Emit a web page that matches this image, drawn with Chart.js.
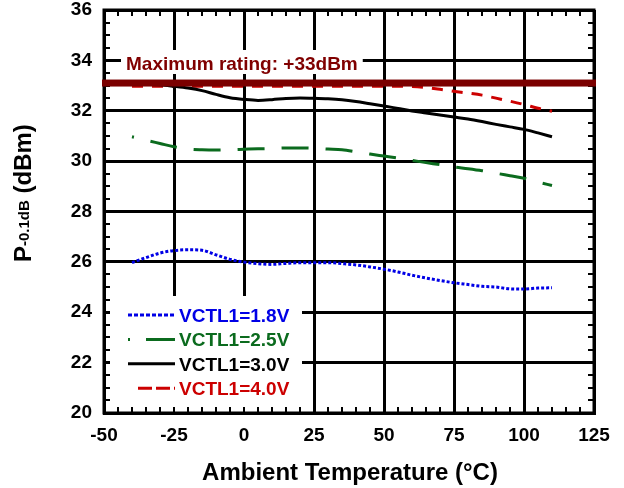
<!DOCTYPE html>
<html><head><meta charset="utf-8">
<script src="https://cdn.jsdelivr.net/npm/chart.js@4/dist/chart.umd.min.js"></script>
<style>html,body{margin:0;padding:0;background:#fff}canvas{display:block}</style>
</head><body>
<canvas id="c" width="624" height="488"></canvas>
<script>
// ---- data ----
const temps = [-40,-35,-30,-25,-20,-15,-10,-5,0,5,10,15,20,25,30,35,40,45,50,55,60,65,70,75,80,85,90,95,100,105,110];
const vctl18 = [25.97,26.17,26.35,26.45,26.48,26.46,26.28,26.10,25.99,25.93,25.90,25.94,25.97,25.97,25.97,25.93,25.88,25.80,25.71,25.60,25.47,25.36,25.26,25.17,25.10,25.03,25.00,24.93,24.92,24.96,24.97];
const vctl25 = [30.97,30.83,30.70,30.57,30.48,30.45,30.44,30.45,30.47,30.49,30.50,30.52,30.52,30.51,30.48,30.45,30.37,30.28,30.20,30.12,30.03,29.94,29.86,29.77,29.70,29.62,29.52,29.42,29.32,29.17,29.03];
const vctl30 = [33.05,33.05,33.03,32.97,32.90,32.80,32.65,32.52,32.45,32.41,32.44,32.49,32.51,32.50,32.48,32.44,32.37,32.28,32.19,32.09,31.99,31.91,31.83,31.75,31.67,31.57,31.46,31.36,31.26,31.12,30.97];
const vctl40 = [32.97,32.97,32.97,32.97,32.97,32.97,32.97,32.97,32.97,32.97,32.97,32.97,32.97,32.97,32.97,32.97,32.97,32.97,32.97,32.97,32.96,32.92,32.85,32.77,32.70,32.62,32.50,32.38,32.25,32.10,31.98];
const seriesLabels = ['VCTL1=1.8V','VCTL1=2.5V','VCTL1=3.0V','VCTL1=4.0V'];
const xTickValues = [-50,-25,0,25,50,75,100,125];
const yTickValues = [20,22,24,26,28,30,32,34,36];
const maxRatingValue = 33.1;
const maxRatingLabel = 'Maximum rating: +33dBm';
const xTitle = 'Ambient Temperature (°C)';
const yTitleMain = 'P', yTitleSub = '-0.1dB', yTitleUnit = ' (dBm)';

// ---- styles ----
const FONT = '"Liberation Sans", Arial, sans-serif';
const colors = ['#0000E6', '#0B6B1E', '#000000', '#CC0000'];
const dashes = [[3,2], [27,17], [], [11,9]];
const legendDashes = [[4,2], [2,16,40,0], [], [14,4]];
const legendStarts = [128, 128, 128, 138];

const pts = arr => temps.map((t, i) => ({x: t, y: arr[i]}));
const seriesData = [vctl18, vctl25, vctl30, vctl40];

const datasets = seriesData.map((arr, i) => ({
  label: seriesLabels[i],
  data: pts(arr),
  borderColor: colors[i],
  backgroundColor: colors[i],
  borderWidth: 3,
  borderDash: dashes[i],
  borderDashOffset: i === 1 ? 25 : 0,
  pointRadius: 0,
  fill: false,
  cubicInterpolationMode: 'monotone',
  borderCapStyle: 'butt'
}));

const decor = {
  id: 'decor',
  afterDatasetsDraw(chart) {
    const ctx = chart.ctx, a = chart.chartArea;
    const xs = chart.scales.x, ys = chart.scales.y;
    ctx.save();
    // legend box
    ctx.fillStyle = '#fff';
    ctx.fillRect(110, 296, 192, a.bottom - 296);
    chart.data.datasets.forEach((ds, i) => {
      const yl = 315 + i * 24.4;
      ctx.strokeStyle = ds.borderColor;
      ctx.lineWidth = 3;
      ctx.setLineDash(legendDashes[i]);
      ctx.beginPath();
      ctx.moveTo(legendStarts[i], yl);
      ctx.lineTo(175, yl);
      ctx.stroke();
      ctx.setLineDash([]);
      ctx.fillStyle = ds.borderColor;
      ctx.font = 'bold 19px ' + FONT;
      ctx.textAlign = 'left';
      ctx.textBaseline = 'alphabetic';
      ctx.fillText(ds.label, 179, yl + 7);
    });
    // minor ticks
    ctx.strokeStyle = '#000';
    ctx.lineWidth = 2;
    ctx.beginPath();
    for (let v = 20; v <= 36; v += 0.5) {
      const py = Math.round(ys.getPixelForValue(v));
      ctx.moveTo(a.left, py); ctx.lineTo(a.left + 6, py);
      ctx.moveTo(a.right, py); ctx.lineTo(a.right - 6, py);
    }
    for (let v = -50; v <= 125; v += 5) {
      const px = Math.round(xs.getPixelForValue(v));
      ctx.moveTo(px, a.bottom); ctx.lineTo(px, a.bottom - 6);
      ctx.moveTo(px, a.top); ctx.lineTo(px, a.top + 6);
    }
    ctx.stroke();
    // frame
    ctx.lineWidth = 3;
    ctx.strokeRect(a.left, a.top, a.right - a.left, a.bottom - a.top);
    // maximum rating bar
    const by = ys.getPixelForValue(maxRatingValue);
    ctx.fillStyle = '#7B0000';
    ctx.fillRect(a.left - 2, by - 3.5, a.right - a.left + 4, 7);
    // label
    ctx.font = 'bold 19px ' + FONT;
    const w = ctx.measureText(maxRatingLabel).width;
    ctx.fillStyle = '#fff';
    ctx.fillRect(121, 50, w + 10, 24);
    ctx.fillStyle = '#800000';
    ctx.textAlign = 'left';
    ctx.textBaseline = 'alphabetic';
    ctx.fillText(maxRatingLabel, 126, 70);
    ctx.restore();
  },
  afterDraw(chart) {
    const ctx = chart.ctx;
    ctx.save();
    ctx.fillStyle = '#000';
    ctx.textBaseline = 'alphabetic';
    // x title
    ctx.font = 'bold 24px ' + FONT;
    ctx.textAlign = 'center';
    ctx.fillText(xTitle, 350, 480);
    // y title
    ctx.translate(31, 262);
    ctx.rotate(-Math.PI / 2);
    ctx.textAlign = 'left';
    ctx.font = 'bold 24px ' + FONT;
    ctx.fillText(yTitleMain, 0, 0);
    let x = ctx.measureText(yTitleMain).width;
    ctx.font = 'bold 15px ' + FONT;
    ctx.fillText(yTitleSub, x, -2);
    x += ctx.measureText(yTitleSub).width;
    ctx.font = 'bold 24px ' + FONT;
    ctx.fillText(yTitleUnit, x, 0);
    ctx.restore();
  }
};

new Chart(document.getElementById('c'), {
  type: 'line',
  data: { datasets },
  options: {
    responsive: false,
    animation: false,
    devicePixelRatio: 1,
    layout: { padding: { left: 0, right: 30, top: 10, bottom: 0 } },
    plugins: { legend: { display: false }, tooltip: { enabled: false } },
    scales: {
      x: {
        type: 'linear', min: -50, max: 125,
        afterBuildTicks: s => { s.ticks = xTickValues.map(v => ({ value: v })); },
        afterFit: s => { s.height = 75; s.paddingLeft = 0; s.paddingRight = 0; },
        grid: { color: '#000', lineWidth: 3, drawTicks: false },
        border: { display: true, color: '#000', width: 3 },
        ticks: { color: '#000', padding: 11, maxRotation: 0, autoSkip: false,
                 font: { family: FONT, size: 19, weight: 'bold' } }
      },
      y: {
        type: 'linear', min: 20, max: 36,
        afterBuildTicks: s => { s.ticks = yTickValues.map(v => ({ value: v })); },
        afterFit: s => { s.width = 104; s.paddingTop = 0; s.paddingBottom = 0; },
        grid: { color: '#000', lineWidth: 3, drawTicks: false },
        border: { display: true, color: '#000', width: 3 },
        ticks: { color: '#000', padding: 12,
                 font: { family: FONT, size: 19, weight: 'bold' } }
      }
    }
  },
  plugins: [decor]
});
</script>
</body></html>
